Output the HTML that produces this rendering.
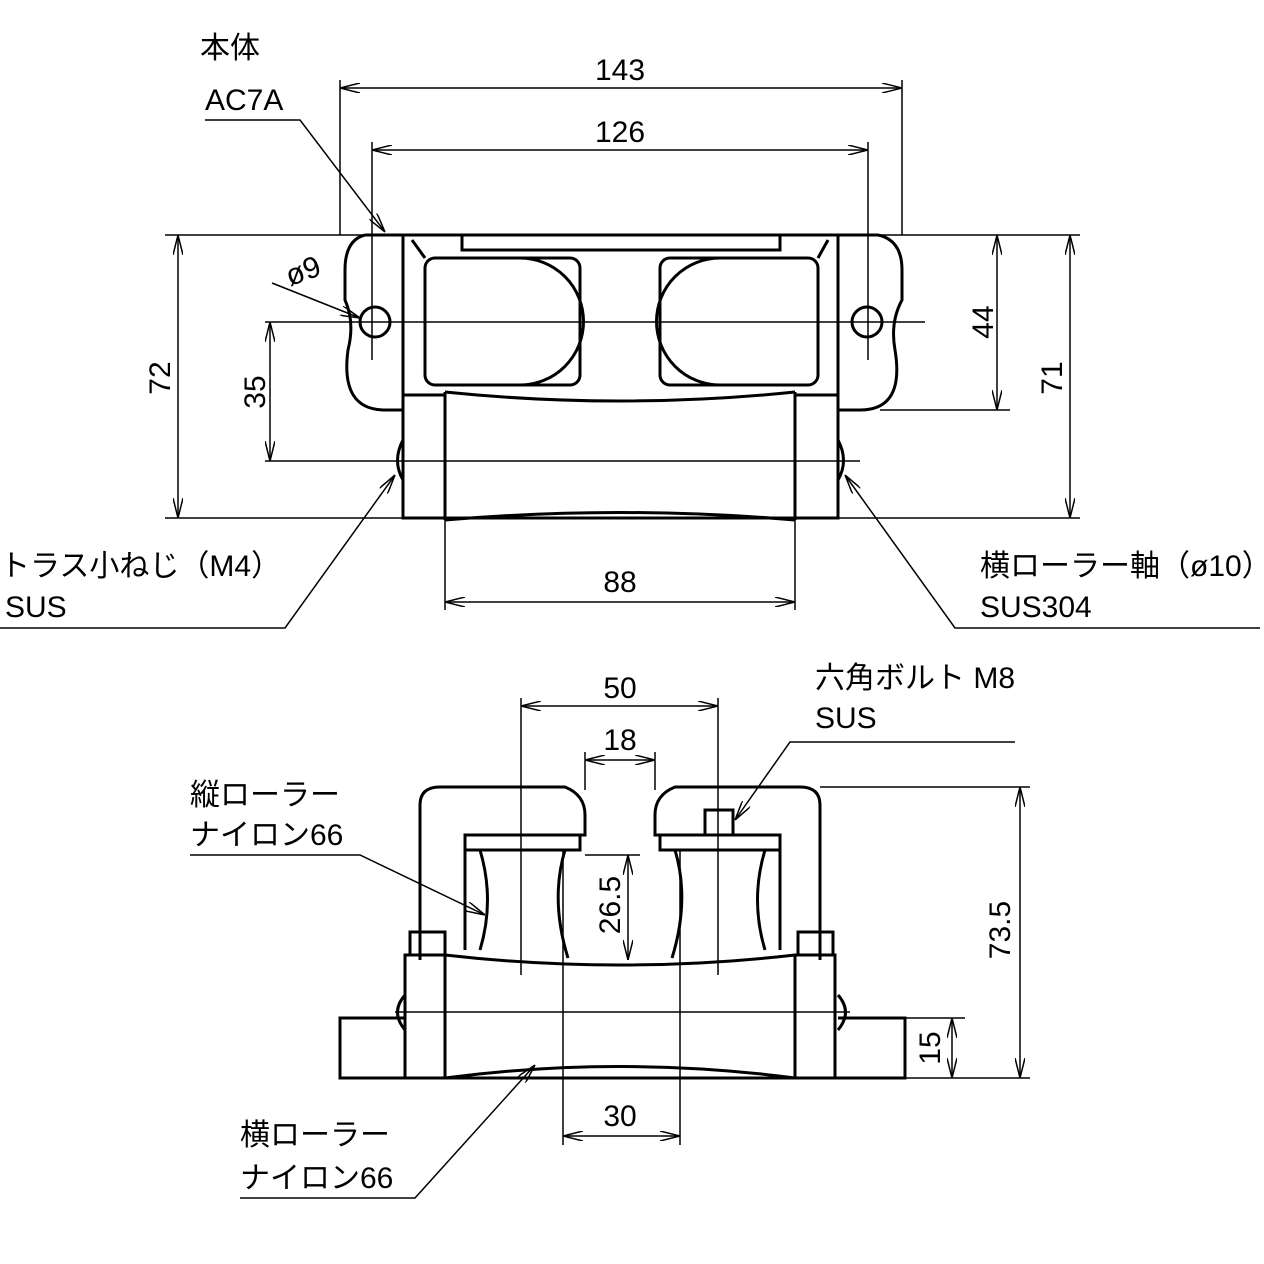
<!DOCTYPE html>
<html><head><meta charset="utf-8"><style>
html,body{margin:0;padding:0;background:#fff}
svg{display:block}
text{font-family:"Liberation Sans","Noto Sans CJK JP",sans-serif;font-size:30px;fill:#000}
</style></head><body>
<svg width="1264" height="1264" viewBox="0 0 1264 1264" xmlns="http://www.w3.org/2000/svg">
<defs>
<marker id="a" viewBox="0 0 20 10" refX="20" refY="5" markerWidth="20" markerHeight="10" orient="auto-start-reverse" markerUnits="userSpaceOnUse">
<path d="M0,0 L20,5 L0,10" fill="none" stroke="#000" stroke-width="1.5"/></marker>
</defs>
<g fill="none" stroke="#000" stroke-width="1.5">
<!-- TOP VIEW dims -->
<line x1="340" y1="80" x2="340" y2="235"/><line x1="902" y1="80" x2="902" y2="235"/>
<line x1="340" y1="88" x2="902" y2="88" marker-start="url(#a)" marker-end="url(#a)"/>
<line x1="372" y1="142" x2="372" y2="360"/><line x1="868" y1="142" x2="868" y2="360"/>
<line x1="372" y1="150" x2="868" y2="150" marker-start="url(#a)" marker-end="url(#a)"/>
<line x1="165" y1="235" x2="1080" y2="235"/>
<line x1="165" y1="518" x2="1080" y2="518"/>
<line x1="265" y1="322" x2="925" y2="322"/>
<line x1="265" y1="461" x2="860" y2="461"/>
<line x1="880" y1="410" x2="1010" y2="410"/>
<line x1="178" y1="235" x2="178" y2="518" marker-start="url(#a)" marker-end="url(#a)"/>
<line x1="270" y1="322" x2="270" y2="461" marker-start="url(#a)" marker-end="url(#a)"/>
<line x1="997" y1="235" x2="997" y2="410" marker-start="url(#a)" marker-end="url(#a)"/>
<line x1="1070" y1="235" x2="1070" y2="518" marker-start="url(#a)" marker-end="url(#a)"/>
<line x1="445" y1="520" x2="445" y2="610"/><line x1="795" y1="520" x2="795" y2="610"/>
<line x1="445" y1="602" x2="795" y2="602" marker-start="url(#a)" marker-end="url(#a)"/>
<!-- top body -->
<g stroke-width="3">
<path d="M365,235 H878 Q902,240 902,270 V300 Q890,322 895,350 Q905,410 860,410 H838 M365,235 Q345,240 345,270 V300 Q355,322 348,350 Q340,410 385,410 H403"/>
<path d="M403,235 V518 H838 V235"/>
<rect x="425" y="258" width="155" height="127" rx="10"/>
<path d="M520,258 A62,62 0 0 1 520,385" />
<rect x="660" y="258" width="158" height="127" rx="10"/>
<path d="M720,258 A62,62 0 0 0 720,385"/>
<path d="M445,392 Q620,410 795,392 M445,520 Q620,505 795,520 M445,392 V520 M795,392 V520"/>
<path d="M403,395 H445 M795,395 H838"/>
<circle cx="375" cy="322" r="15"/><circle cx="867" cy="322" r="15"/>
<path d="M403,440 Q392,461 403,480 M838,440 Q849,461 838,480"/>
<path d="M412,240 L425,258 M828,240 L818,258 M462,235 V250 H780 V235"/>
</g>
<!-- top leaders -->
<path d="M205,120 H300 L385,232" marker-end="url(#a)"/>
<path d="M272,283 L360,318" marker-end="url(#a)"/>
<path d="M0,628 H285 L395,475" marker-end="url(#a)"/>
<path d="M1260,628 H955 L845,475" marker-end="url(#a)"/>
<!-- BOTTOM VIEW dims -->
<line x1="521" y1="698" x2="521" y2="975"/><line x1="718" y1="698" x2="718" y2="975"/>
<line x1="521" y1="706" x2="718" y2="706" marker-start="url(#a)" marker-end="url(#a)"/>
<line x1="585" y1="752" x2="585" y2="790"/><line x1="655" y1="752" x2="655" y2="790"/>
<line x1="585" y1="760" x2="655" y2="760" marker-start="url(#a)" marker-end="url(#a)"/>
<line x1="820" y1="787" x2="1030" y2="787"/>
<line x1="905" y1="1018" x2="965" y2="1018"/>
<line x1="905" y1="1078" x2="1030" y2="1078"/>
<line x1="1020" y1="787" x2="1020" y2="1078" marker-start="url(#a)" marker-end="url(#a)"/>
<line x1="952" y1="1018" x2="952" y2="1078" marker-start="url(#a)" marker-end="url(#a)"/>
<line x1="585" y1="855" x2="640" y2="855"/>
<line x1="628" y1="855" x2="628" y2="960" marker-start="url(#a)" marker-end="url(#a)"/>
<line x1="563" y1="850" x2="563" y2="1145"/><line x1="680" y1="850" x2="680" y2="1145"/>
<line x1="563" y1="1136" x2="680" y2="1136" marker-start="url(#a)" marker-end="url(#a)"/>
<line x1="395" y1="1012" x2="850" y2="1012"/>
<!-- bottom body -->
<g stroke-width="3">
<path d="M405,1018 H340 V1078 H905 V1018 H838"/>
<path d="M420,960 V805 Q420,787 440,787 H565 Q585,795 585,815 V835 H465 V950 M420,960"/>
<path d="M820,960 V805 Q820,787 800,787 H675 Q655,795 655,815 V835 H780 V950"/>
<path d="M465,835 H580 V850 H465 Z M660,835 H780 V850 H660 Z"/>
<path d="M480,850 Q495,900 480,950 M565,850 Q550,900 568,958 M675,850 Q690,900 672,958 M765,850 Q750,900 765,950"/>
<rect x="405" y="955" width="40" height="123"/><rect x="795" y="955" width="40" height="123"/>
<rect x="410" y="932" width="35" height="23"/><rect x="798" y="932" width="35" height="23"/>
<path d="M445,955 Q620,975 795,955 M445,1078 Q620,1055 795,1078"/>
<rect x="705" y="810" width="28" height="25"/>
<path d="M405,995 Q390,1012 405,1030 M838,995 Q853,1012 838,1030"/>
</g>
<path d="M1015,742 H790 L735,820" marker-end="url(#a)"/>
<path d="M190,855 H360 L485,915" marker-end="url(#a)"/>
<path d="M240,1198 H415 L535,1065" marker-end="url(#a)"/>
</g>
<!-- TEXT -->
<text x="620" y="80" text-anchor="middle">143</text>
<text x="620" y="142" text-anchor="middle">126</text>
<text x="620" y="592" text-anchor="middle">88</text>
<text x="200" y="58">本体</text>
<text x="205" y="110">AC7A</text>
<text x="285" y="282" transform="rotate(-20 300 270)">ø9</text>
<text transform="translate(170,378) rotate(-90)" text-anchor="middle">72</text>
<text transform="translate(265,392) rotate(-90)" text-anchor="middle">35</text>
<text transform="translate(993,322) rotate(-90)" text-anchor="middle">44</text>
<text transform="translate(1062,378) rotate(-90)" text-anchor="middle">71</text>
<text x="0" y="576">トラス小ねじ（M4）</text>
<text x="5" y="617">SUS</text>
<text x="980" y="576">横ローラー軸（ø10）</text>
<text x="980" y="617">SUS304</text>
<text x="620" y="698" text-anchor="middle">50</text>
<text x="620" y="750" text-anchor="middle">18</text>
<text x="815" y="688">六角ボルト M8</text>
<text x="815" y="728">SUS</text>
<text x="190" y="805">縦ローラー</text>
<text x="190" y="845">ナイロン66</text>
<text transform="translate(620,905) rotate(-90)" text-anchor="middle">26.5</text>
<text transform="translate(1010,930) rotate(-90)" text-anchor="middle">73.5</text>
<text transform="translate(940,1048) rotate(-90)" text-anchor="middle">15</text>
<text x="620" y="1126" text-anchor="middle">30</text>
<text x="240" y="1145">横ローラー</text>
<text x="240" y="1188">ナイロン66</text>
</svg>
</body></html>
